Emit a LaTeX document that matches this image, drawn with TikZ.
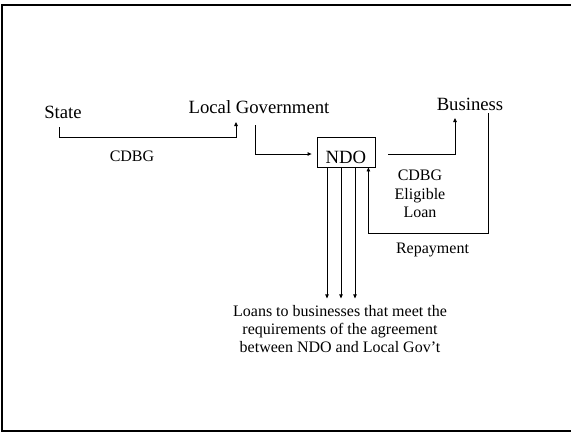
\documentclass[tikz,border=0pt]{standalone}
\usepackage{fontspec}
\setmainfont{Liberation Serif}
\usetikzlibrary{arrows.meta}
\begin{document}
\begin{tikzpicture}[x=1pt,y=-1pt,
  conn/.style={line width=0.8pt},
  arr/.style={conn,-{Triangle[length=4pt,width=3.5pt]}},
  big/.style={font=\fontsize{18.7}{22}\selectfont, inner sep=0pt},
  small/.style={font=\fontsize{16}{18.4}\selectfont, inner sep=0pt, align=center}]
\useasboundingbox (0,0) rectangle (571,432);
\begin{scope}
\clip (0,0) rectangle (571,432);
\draw[line width=2pt] (580,5) -- (2,5) -- (2,431) -- (580,431);
\end{scope}
% nodes
\node[big,anchor=base] (state) at (63,118) {State};
\node[big,anchor=base] (localgov) at (259,113) {Local Government};
\node[big,anchor=base] (business) at (470,110) {Business};
\node[draw,conn,big,minimum width=58pt,text height=26pt,text depth=4pt,anchor=base] (ndo) at (346,163) {NDO};
\node[small,anchor=base] (cdbg) at (132,161) {CDBG};
\node[small] (eligible) at (420,194) {CDBG\\Eligible\\Loan};
\node[small,anchor=base] (repay) at (432.5,253) {Repayment};
\node[small] (loans) at (340,329) {Loans to businesses that meet the\\requirements of the agreement\\between NDO and Local Gov’t};
% connectors
\coordinate (s-out) at ([shift={(-4,9)}]state.base);
\coordinate (lg-in) at ([shift={(-23,9)}]localgov.base);
\coordinate (lg-out) at ([shift={(-4,12)}]localgov.base);
\coordinate (b-in) at ([shift={(-15,8)}]business.base);
\coordinate (b-out) at ([shift={(18,3)}]business.base);
\draw[arr] (s-out) -- ++(0,10) -| (lg-in);
\draw[arr] (lg-out) |- ([shift={(-5,2)}]ndo.west);
\draw[arr] ([shift={(13,2)}]ndo.east) -| (b-in);
\draw[arr] (b-out) -- ++(0,120) -| ([xshift=-7pt]ndo.south east);
\draw[arr] ([xshift=-19pt]ndo.south) -- ++(0,131);
\draw[arr] ([xshift=-5pt]ndo.south) -- ++(0,131);
\draw[arr] ([xshift=9pt]ndo.south) -- ++(0,131);
\end{tikzpicture}
\end{document}
